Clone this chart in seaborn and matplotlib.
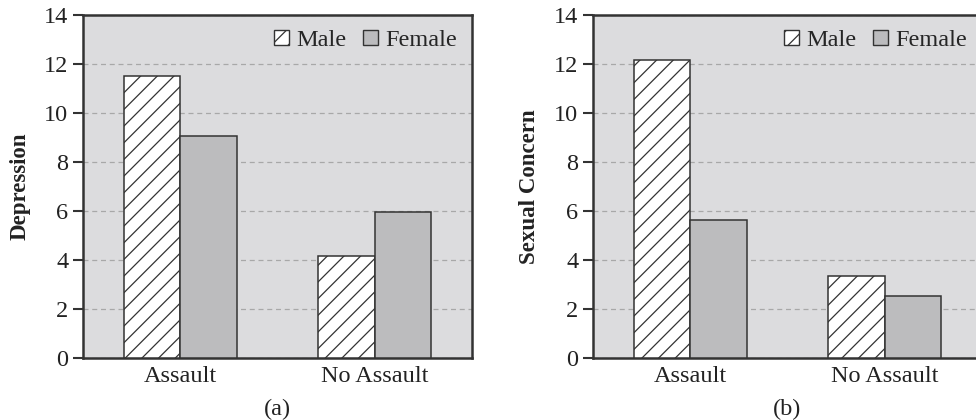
import matplotlib
matplotlib.use("Agg")
import matplotlib.pyplot as plt
import seaborn as sns
import pandas as pd
from matplotlib.patches import Patch

categories = ["Assault", "No Assault"]
genders = ["Male", "Female"]
depression_male = [11.5, 4.15]
depression_female = [9.05, 5.95]
sexual_male = [12.15, 3.35]
sexual_female = [5.65, 2.55]
yticks = [0, 2, 4, 6, 8, 10, 12, 14]
ylabels = ["Depression", "Sexual Concern"]
captions = ["(a)", "(b)"]

sns.set_theme(style="white")
plt.rcParams["font.family"] = ["Liberation Serif", "DejaVu Serif"]
plt.rcParams["hatch.linewidth"] = 0.9
plt.rcParams["hatch.color"] = "#333333"

fig = plt.figure(figsize=(9.76, 4.2), dpi=100)
W, H = 976, 420
ax_a = fig.add_axes([83 / W, (H - 358) / H, 389 / W, 343 / H])
ax_b = fig.add_axes([593 / W, (H - 358) / H, 389 / W, 343 / H])

panels = [
    (ax_a, depression_male, depression_female, ylabels[0], captions[0]),
    (ax_b, sexual_male, sexual_female, ylabels[1], captions[1]),
]

bg = "#dcdcde"
female_col = "#bcbcbe"
edge = "#333333"
fs = 17.5

for ax, male, female, ylab, cap in panels:
    df = pd.DataFrame({
        "category": categories * 2,
        "gender": [genders[0]] * len(categories) + [genders[1]] * len(categories),
        "value": list(male) + list(female),
    })
    ax.set_facecolor(bg)
    sns.barplot(data=df, x="category", y="value", hue="gender",
                order=categories, hue_order=genders,
                palette={"Male": "white", "Female": female_col},
                width=0.58, edgecolor=edge, linewidth=1.1,
                ax=ax, legend=False, zorder=3)
    for i, p in enumerate(ax.patches):
        if i < len(categories):
            p.set_hatch("//")
    ax.set_ylim(0, 14)
    ax.set_xlim(-0.5, 1.5)
    ax.set_yticks(yticks)
    ax.set_yticklabels([str(t) for t in yticks])
    ax.yaxis.grid(True, linestyle=(0, (4, 3)), color="#a8a8a8", linewidth=0.9, zorder=0)
    ax.set_axisbelow(True)
    for s in ax.spines.values():
        s.set_color(edge)
        s.set_linewidth(1.8)
    ax.tick_params(axis="y", direction="out", length=7.5, width=1.5, color=edge,
                   labelsize=fs, labelcolor="#222222", pad=3, left=True)
    ax.tick_params(axis="x", length=0, labelsize=fs, labelcolor="#222222", pad=5.5)
    ax.set_xlabel(cap, fontsize=fs, color="#222222", labelpad=9)
    ax.set_ylabel(ylab, fontsize=16.5, fontweight="bold", color="#222222", labelpad=10)
    handles = [Patch(facecolor="white", edgecolor=edge, hatch="//", linewidth=1.0, label="Male"),
               Patch(facecolor=female_col, edgecolor=edge, linewidth=1.0, label="Female")]
    ax.legend(handles=handles, loc="upper right", frameon=False, fontsize=fs,
              ncol=2, handlelength=0.62, handleheight=0.62, handletextpad=0.3,
              columnspacing=0.7, borderaxespad=0.3, borderpad=0.3)

fig.savefig("out.png", dpi=100)
